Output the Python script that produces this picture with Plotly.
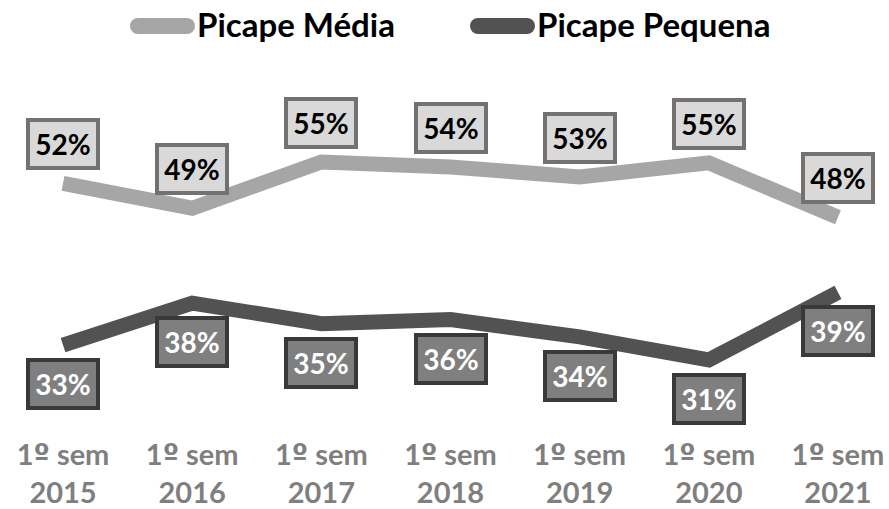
import plotly.graph_objects as go

years = ["2015", "2016", "2017", "2018", "2019", "2020", "2021"]
period = "1<span style=\"font-family:'DejaVu Sans'\">º</span> sem"
categories = [f"{period}<br>{y}" for y in years]
media = [52.4, 49.4, 55.0, 54.4, 53.2, 54.9, 48.3]
pequena = [32.8, 37.9, 35.4, 35.9, 33.8, 31.0, 39.2]
series_names = ["Picape Média", "Picape Pequena"]
series_colors = ["#A6A6A6", "#525252"]

FONT = "Lato, 'Open Sans', sans-serif"
x_idx = list(range(len(categories)))

fig = go.Figure()
for name, vals, col in zip(series_names, [media, pequena], series_colors):
    fig.add_trace(go.Scatter(x=x_idx, y=vals, mode="lines", name=name,
                             line=dict(color=col, width=15), showlegend=False))

annotations = []
for i, v in enumerate(media):
    annotations.append(dict(x=i, y=v, xref="x", yref="y", text=f"{round(v)}%", showarrow=False,
                            yshift=39, width=64, height=42, borderpad=1, borderwidth=4,
                            bordercolor="#767171", bgcolor="#D9D9D9",
                            font=dict(family=FONT, size=28, color="#000000", weight="bold")))
for i, v in enumerate(pequena):
    annotations.append(dict(x=i, y=v, xref="x", yref="y", text=f"{round(v)}%", showarrow=False,
                            yshift=-39, width=64, height=42, borderpad=1, borderwidth=4,
                            bordercolor="#3B3838", bgcolor="#7F7F7F",
                            font=dict(family=FONT, size=28, color="#FFFFFF", weight="bold")))

# custom legend (rounded thick line symbol + label)
H_PLOT = 509 - 84
def py(pix):
    return (H_PLOT - pix) / H_PLOT

legend_pos = [(130, 195), (470, 535)]
shapes = []
for (x0, x1), name, col in zip(legend_pos, series_names, series_colors):
    cy = py(26)
    shapes.append(dict(type="line", xref="paper", yref="paper", x0=(x0 + 8) / 889, x1=(x1 - 8) / 889,
                       y0=cy, y1=cy, line=dict(color=col, width=16)))
    for cx in (x0 + 8, x1 - 8):
        shapes.append(dict(type="circle", xref="paper", yref="paper", xsizemode="pixel", ysizemode="pixel",
                           xanchor=cx / 889, yanchor=cy, x0=-8, x1=8, y0=-8, y1=8,
                           fillcolor=col, line=dict(width=0)))
    annotations.append(dict(x=x1 / 889, y=py(24), xref="paper", yref="paper", text=name,
                            showarrow=False, xanchor="left", yanchor="middle",
                            font=dict(family=FONT, size=33, color="#000000", weight="bold")))

fig.update_layout(
    width=889, height=509,
    margin=dict(l=0, r=0, t=0, b=84),
    paper_bgcolor="white", plot_bgcolor="white",
    showlegend=False,
    xaxis=dict(range=[-0.488, 6.395], tickmode="array", tickvals=x_idx, ticktext=categories,
               showgrid=False, zeroline=False, showline=False, ticks="", automargin=False,
               ticklabelstandoff=10,
               tickfont=dict(family=FONT, size=29, color="#7F7F7F", weight="bold")),
    yaxis=dict(range=[23.12, 74.64], visible=False, automargin=False),
    annotations=annotations,
    shapes=shapes,
)

fig.write_html("out.html", config={"displayModeBar": False},
               post_script="document.body.style.margin='0';")
